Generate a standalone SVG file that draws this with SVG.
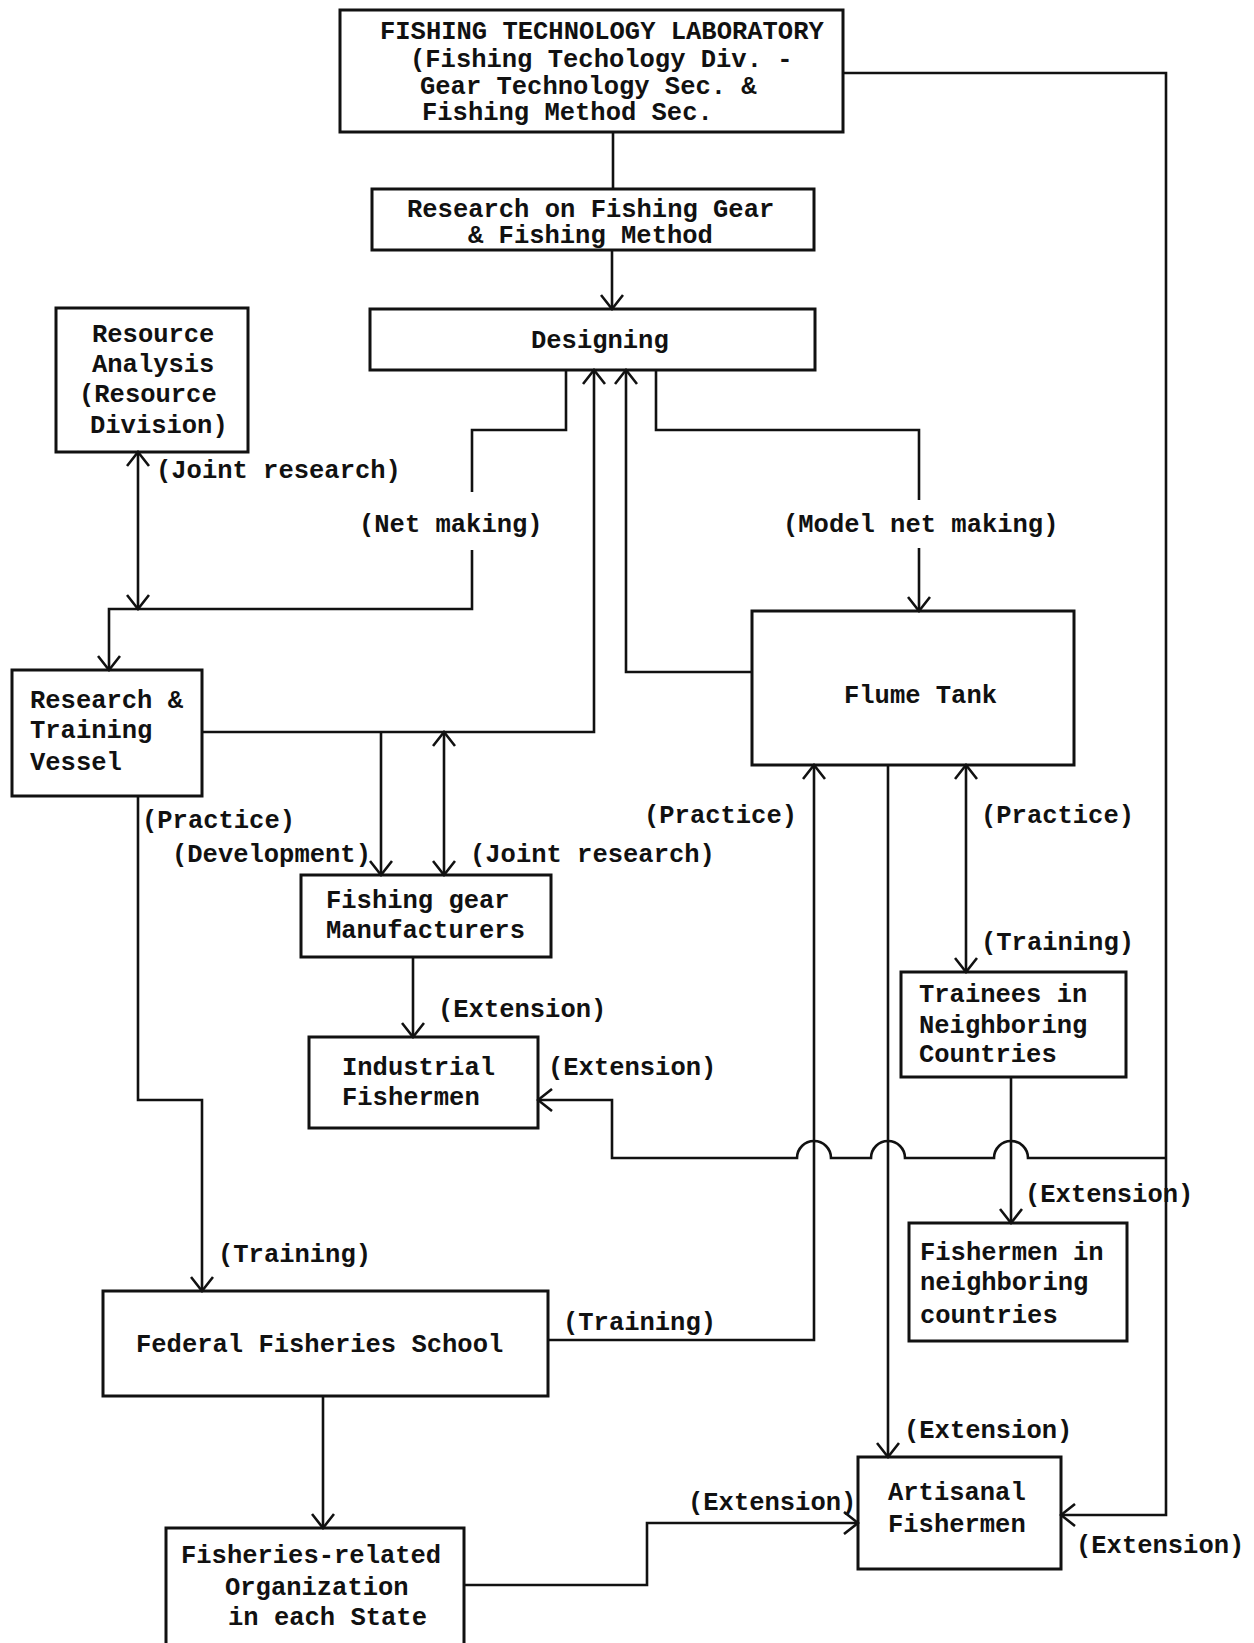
<svg xmlns="http://www.w3.org/2000/svg" width="1254" height="1643" viewBox="0 0 1254 1643">
<style>
.box{fill:none;stroke:#111;stroke-width:3}
.ln{fill:none;stroke:#111;stroke-width:2.6}
text{font-family:"Liberation Mono","DejaVu Sans Mono",monospace;font-size:25.5px;font-weight:bold;fill:#111}
</style>
<defs>
<marker id="a" viewBox="0 0 24 24" refX="22" refY="12" markerWidth="24" markerHeight="24" markerUnits="userSpaceOnUse" orient="auto-start-reverse">
<path d="M8,1 L22,12 L8,23" fill="none" stroke="#111" stroke-width="2.6"/>
</marker>
</defs>
<rect width="1254" height="1643" fill="#fff"/>
<g id="connectors">
<path class="ln" d="M613,132 V189"/>
<path class="ln" d="M612,250 V309" marker-end="url(#a)"/>
<path class="ln" d="M843,73 H1166 V1515 H1061" marker-end="url(#a)"/>
<path class="ln" d="M566,370 V430 H472 V492"/>
<path class="ln" d="M472,550 V609 H109 V670" marker-end="url(#a)"/>
<path class="ln" d="M138,452 V609" marker-start="url(#a)" marker-end="url(#a)"/>
<path class="ln" d="M202,732 H594 V370" marker-end="url(#a)"/>
<path class="ln" d="M752,672 H626 V370" marker-end="url(#a)"/>
<path class="ln" d="M656,370 V430 H919 V500"/>
<path class="ln" d="M919,548 V611" marker-end="url(#a)"/>
<path class="ln" d="M381,732 V875" marker-end="url(#a)"/>
<path class="ln" d="M444,732 V875" marker-start="url(#a)" marker-end="url(#a)"/>
<path class="ln" d="M138,796 V1100 H202 V1291" marker-end="url(#a)"/>
<path class="ln" d="M413,957 V1037" marker-end="url(#a)"/>
<path class="ln" d="M1166,1158 H1028 A17,17 0 0 0 994,1158 H905 A17,17 0 0 0 871,1158 H831 A17,17 0 0 0 797,1158 H612 V1100 H538" marker-end="url(#a)"/>
<path class="ln" d="M548,1340 H814 V765" marker-end="url(#a)"/>
<path class="ln" d="M888,765 V1457" marker-end="url(#a)"/>
<path class="ln" d="M966,765 V972" marker-start="url(#a)" marker-end="url(#a)"/>
<path class="ln" d="M1011,1077 V1223" marker-end="url(#a)"/>
<path class="ln" d="M323,1396 V1528" marker-end="url(#a)"/>
<path class="ln" d="M464,1585 H647 V1523 H858" marker-end="url(#a)"/>
<text x="156" y="478">(Joint research)</text>
<text x="359" y="532">(Net making)</text>
<text x="783" y="532">(Model net making)</text>
<text x="142" y="828">(Practice)</text>
<text x="172" y="862">(Development)</text>
<text x="470" y="862">(Joint research)</text>
<text x="644" y="823">(Practice)</text>
<text x="981" y="823">(Practice)</text>
<text x="981" y="950">(Training)</text>
<text x="438" y="1017">(Extension)</text>
<text x="548" y="1075">(Extension)</text>
<text x="1025" y="1202">(Extension)</text>
<text x="218" y="1262">(Training)</text>
<text x="563" y="1330">(Training)</text>
<text x="904" y="1438">(Extension)</text>
<text x="688" y="1510">(Extension)</text>
<text x="1076" y="1553">(Extension)</text>
</g>
<g id="lab">
<rect class="box" x="340" y="10" width="503" height="122"/>
<text x="380" y="39">FISHING TECHNOLOGY LABORATORY</text>
<text x="410" y="67">(Fishing Techology Div. -</text>
<text x="420" y="94">Gear Technology Sec. &amp;</text>
<text x="422" y="120">Fishing Method Sec.</text>
</g>
<g id="research">
<rect class="box" x="372" y="189" width="442" height="61"/>
<text x="407" y="217">Research on Fishing Gear</text>
<text x="468" y="243">&amp; Fishing Method</text>
</g>
<g id="designing">
<rect class="box" x="370" y="309" width="445" height="61"/>
<text x="531" y="348">Designing</text>
</g>
<g id="resource">
<rect class="box" x="56" y="308" width="192" height="144"/>
<text x="92" y="342">Resource</text>
<text x="92" y="372">Analysis</text>
<text x="79" y="402">(Resource</text>
<text x="90" y="433">Division)</text>
</g>
<g id="vessel">
<rect class="box" x="12" y="670" width="190" height="126"/>
<text x="30" y="708">Research &amp;</text>
<text x="30" y="738">Training</text>
<text x="30" y="770">Vessel</text>
</g>
<g id="flume">
<rect class="box" x="752" y="611" width="322" height="154"/>
<text x="844" y="703">Flume Tank</text>
</g>
<g id="manufacturers">
<rect class="box" x="301" y="875" width="250" height="82"/>
<text x="326" y="908">Fishing gear</text>
<text x="326" y="938">Manufacturers</text>
</g>
<g id="industrial">
<rect class="box" x="309" y="1037" width="229" height="91"/>
<text x="342" y="1075">Industrial</text>
<text x="342" y="1105">Fishermen</text>
</g>
<g id="trainees">
<rect class="box" x="901" y="972" width="225" height="105"/>
<text x="919" y="1002">Trainees in</text>
<text x="919" y="1033">Neighboring</text>
<text x="919" y="1062">Countries</text>
</g>
<g id="fishermen-nc">
<rect class="box" x="909" y="1223" width="218" height="118"/>
<text x="920" y="1260">Fishermen in</text>
<text x="920" y="1290">neighboring</text>
<text x="920" y="1323">countries</text>
</g>
<g id="ffs">
<rect class="box" x="103" y="1291" width="445" height="105"/>
<text x="136" y="1352">Federal Fisheries School</text>
</g>
<g id="artisanal">
<rect class="box" x="858" y="1457" width="203" height="112"/>
<text x="888" y="1500">Artisanal</text>
<text x="888" y="1532">Fishermen</text>
</g>
<g id="fisheries-org">
<rect class="box" x="166" y="1528" width="298" height="130"/>
<text x="181" y="1563">Fisheries-related</text>
<text x="225" y="1595">Organization</text>
<text x="228" y="1625">in each State</text>
</g>
</svg>
